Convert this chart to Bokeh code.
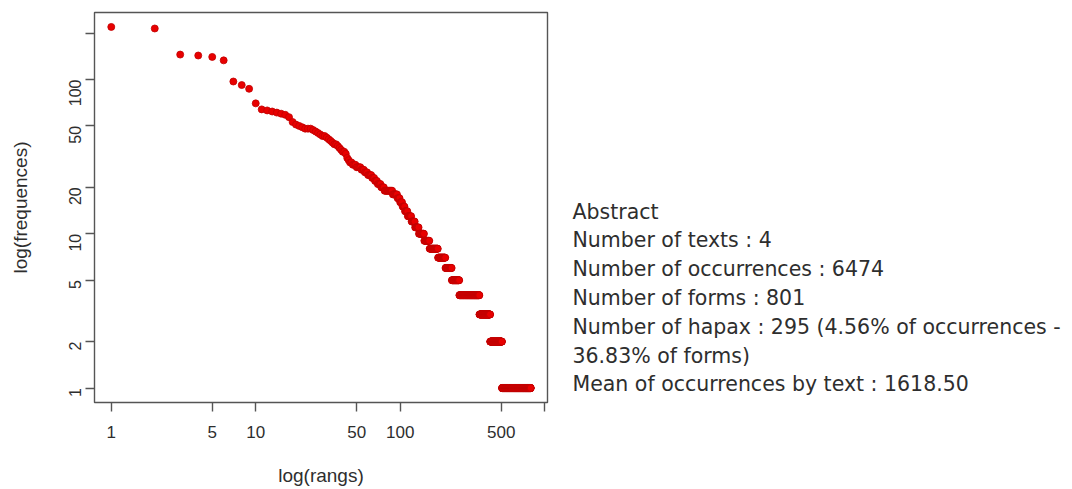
import math
from bokeh.plotting import figure
from bokeh.layouts import row
from bokeh.models import Range1d, FixedTicker, ColumnDataSource
from bokeh.core.properties import value
from bokeh.embed import file_html
from bokeh.resources import INLINE

# ---- data (rank / frequency distribution of forms) ----
# frequencies of the most frequent forms, ranks 1..46
top_freqs = [219, 214, 145, 143, 140, 133, 97, 92, 87, 70,
             64, 63, 62, 61, 60, 59, 57, 53, 51, 50,
             49, 48, 48, 48, 47, 46, 45, 44, 43, 43,
             42, 41, 40, 39, 38, 38, 37, 36, 35, 34,
             34, 33, 31, 30, 29, 29]
# frequency spectrum for the rest: frequency level -> number of forms
freq_levels = [28, 27, 26, 25, 24, 23, 22, 21, 20, 19, 18, 17, 16, 15,
               14, 13, 12, 11, 10, 9, 8, 7, 6, 5, 4, 3, 2, 1]
n_forms = [3, 4, 3, 3, 4, 3, 3, 4, 4, 11, 7, 4, 4, 4,
           5, 7, 7, 8, 12, 13, 23, 23, 22, 29, 97, 66, 87, 295]

x_ticks = [1, 5, 10, 50, 100, 500, 1000]
y_ticks = [1, 2, 5, 10, 20, 50, 100, 200]
x_hidden = [1000]
y_hidden = [200]

summary_lines = [
    "Abstract",
    "Number of texts : 4",
    "Number of occurrences : 6474",
    "Number of forms : 801",
    "Number of hapax : 295 (4.56% of occurrences -",
    "36.83% of forms)",
    "Mean of occurrences by text : 1618.50",
]

# ---- build series ----
freqs = list(top_freqs)
for f, n in zip(freq_levels, n_forms):
    freqs += [f] * n
ranks = list(range(1, len(freqs) + 1))


def r_log_range(vals):
    lo, hi = math.log10(min(vals)), math.log10(max(vals))
    d = 0.04 * (hi - lo)
    return Range1d(10 ** (lo - d), 10 ** (hi + d))


AX_COL = "#555555"
TXT_COL = "#2e2e2e"

TOTAL_W, TOTAL_H = 1072, 489
W1 = 568
BORDER_TOP, BORDER_BOTTOM = 12, 87

p = figure(width=W1, height=TOTAL_H,
           x_axis_type="log", y_axis_type="log",
           x_range=r_log_range(ranks), y_range=r_log_range(freqs),
           output_backend="svg", toolbar_location=None,
           min_border_left=94, min_border_right=21,
           min_border_top=BORDER_TOP, min_border_bottom=BORDER_BOTTOM,
           background_fill_color="white", border_fill_color="white")

p.scatter(ranks, freqs, size=7, fill_color="#e80000",
          line_color="#c00000", line_width=0.8)

p.grid.visible = False
p.outline_line_color = AX_COL
p.outline_line_width = 1.4

p.xaxis.ticker = FixedTicker(ticks=x_ticks, minor_ticks=[])
p.yaxis.ticker = FixedTicker(ticks=y_ticks, minor_ticks=[])
p.xaxis.major_label_overrides = {t: "" for t in x_hidden}
p.yaxis.major_label_overrides = {t: "" for t in y_hidden}

for ax in (p.xaxis[0], p.yaxis[0]):
    ax.axis_line_color = None
    ax.major_tick_in = 0
    ax.major_tick_out = 9
    ax.major_tick_line_color = AX_COL
    ax.major_tick_line_width = 1.4
    ax.minor_tick_line_color = None
    ax.major_label_text_font = "Liberation Sans"
    ax.major_label_text_font_size = "16px"
    ax.major_label_text_color = TXT_COL
    ax.axis_label_text_font = "Liberation Sans"
    ax.axis_label_text_font_size = "19px"
    ax.axis_label_text_font_style = "normal"
    ax.axis_label_text_color = TXT_COL

p.xaxis.major_label_text_font_size = "17px"
p.xaxis.axis_label = "log(rangs)"
p.yaxis.axis_label = "log(frequences)"
p.xaxis.major_label_standoff = 14
p.xaxis.axis_label_standoff = 24
p.yaxis.major_label_standoff = 10
p.yaxis.axis_label_standoff = 30
p.yaxis.major_label_orientation = math.pi / 2

# ---- text panel (frame spans the same vertical band as the plot frame) ----
W2 = TOTAL_W - W1
frame_top = BORDER_TOP
frame_bottom = TOTAL_H - BORDER_BOTTOM
p2 = figure(width=W2, height=TOTAL_H,
            x_range=Range1d(0, W2), y_range=Range1d(frame_bottom, frame_top),
            output_backend="svg", toolbar_location=None,
            x_axis_location=None, y_axis_location=None,
            min_border_left=0, min_border_right=0,
            min_border_top=BORDER_TOP, min_border_bottom=BORDER_BOTTOM,
            background_fill_color="white", border_fill_color="white")
p2.grid.visible = False
p2.outline_line_color = None

first_baseline = 211
line_gap = 28.8
src = ColumnDataSource(dict(
    x=[4] * len(summary_lines),
    y=[first_baseline + i * line_gap for i in range(len(summary_lines))],
    t=summary_lines,
))
p2.text(x="x", y="y", text="t", source=src, text_font=value("DejaVu Sans"),
        text_font_size="20.5px", text_color=TXT_COL, text_baseline="alphabetic",
        text_align="left")

layout = row(p, p2)
open("out.html", "w").write(file_html(layout, INLINE))
